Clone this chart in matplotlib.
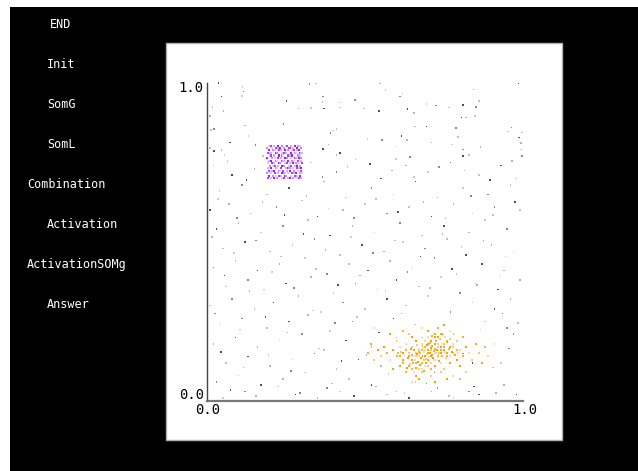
import matplotlib
matplotlib.use("Agg")
import matplotlib.pyplot as plt
from matplotlib.patches import Rectangle

# ---------------- data ----------------
menu_items = ["END", "Init", "SomG", "SomL", "Combination", "Activation", "ActivationSOMg", "Answer"]
menu_indent = [50, 47, 47, 47, 27, 47, 27, 47]

tick_labels = ["0.0", "1.0"]

gray_points = [
    (.036, 1.0), (.046, .999), (.113, .988), (.115, .973), (.017, .925), (.046, .957), (.052, .912),
    (.110, .959), (.324, .996), (.345, .999), (.252, .943), (.289, .920), (.329, .922), (.368, .957),
    (.365, .941), (.371, .920), (.419, .939), (.421, .923), (.468, .947), (.497, .920), (.545, .912),
    (.547, .999), (.565, .978), (.611, .957), (.619, .967), (.635, .918), (.655, .905), (.695, .934),
    (.725, .929), (.765, .923), (.811, .931), (.843, .980), (.843, .939), (.851, .925), (.861, .944),
    (.986, .999), (.009, .896), (.002, .873), (.023, .855), (.012, .852), (.073, .813), (.121, .866),
    (.131, .833), (.154, .805), (.009, .795), (.023, .786), (.046, .789), (.055, .774), (.242, .871),
    (.178, .770), (.368, .792), (.384, .807), (.398, .850), (.391, .842), (.410, .856), (.421, .779),
    (.410, .774), (.508, .823), (.553, .821), (.600, .800), (.616, .833), (.632, .821), (.598, .761),
    (.642, .768), (.658, .863), (.695, .863), (.711, .813), (.775, .807), (.788, .858), (.795, .831),
    (.806, .892), (.820, .892), (.848, .896), (.811, .791), (.830, .774), (.811, .770), (.866, .798),
    (.953, .847), (.964, .860), (.996, .844), (.988, .829), (.994, .812), (.993, .791), (.996, .770),
    (.02, .74), (.08, .71), (.15, .73), (.33, .75), (.41, .72), (.47, .76), (.55, .70), (.63, .74),
    (.70, .72), (.77, .75), (.86, .71), (.93, .74), (.98, .70),
    (.04, .66), (.11, .68), (.19, .65), (.26, .67), (.37, .69), (.44, .64), (.52, .67), (.59, .65),
    (.66, .69), (.73, .64), (.81, .67), (.89, .65), (.96, .68),
    (.01, .60), (.07, .62), (.14, .59), (.22, .61), (.30, .63), (.35, .58), (.43, .60), (.50, .62),
    (.57, .59), (.64, .61), (.71, .58), (.78, .62), (.84, .59), (.91, .61), (.99, .60),
    (.03, .54), (.10, .56), (.17, .53), (.24, .55), (.32, .57), (.39, .52), (.46, .55), (.53, .53),
    (.61, .56), (.68, .52), (.75, .55), (.83, .53), (.88, .57), (.95, .54),
    (.05, .48), (.12, .50), (.20, .47), (.27, .49), (.34, .51), (.42, .46), (.49, .49), (.56, .47),
    (.62, .50), (.69, .48), (.76, .51), (.82, .46), (.90, .49), (.97, .47),
    (.02, .42), (.09, .44), (.16, .41), (.23, .43), (.31, .45), (.38, .40), (.45, .43), (.51, .41),
    (.58, .44), (.65, .42), (.72, .45), (.79, .40), (.87, .43), (.94, .41),
    (.06, .36), (.13, .38), (.18, .35), (.25, .37), (.33, .39), (.40, .34), (.47, .37), (.54, .35),
    (.60, .38), (.67, .36), (.74, .39), (.80, .34), (.85, .37), (.92, .35), (.99, .38),
    (.01, .30), (.08, .32), (.15, .29), (.21, .31), (.29, .33), (.36, .28), (.43, .31), (.50, .29),
    (.57, .32), (.63, .30), (.70, .33), (.77, .28), (.84, .31), (.91, .29), (.96, .32),
    (.04, .24), (.11, .26), (.19, .23), (.26, .25), (.32, .27), (.39, .22), (.46, .25), (.53, .23),
    (.59, .26), (.66, .24), (.88, .25), (.95, .23),
    (.02, .18), (.09, .20), (.16, .17), (.23, .19), (.30, .21), (.37, .16), (.44, .19), (.52, .17),
    (.91, .18), (.97, .21),
    (.06, .12), (.13, .14), (.20, .11), (.27, .13), (.34, .15), (.41, .10), (.48, .13), (.55, .11),
    (.93, .12),
    (.03, .06), (.10, .08), (.17, .05), (.24, .07), (.31, .09), (.38, .04), (.45, .07), (.52, .05),
    (.60, .03), (.66, .06), (.73, .04), (.80, .07), (.86, .02), (.94, .05),
    (.05, .01), (.12, .03), (.19, .00), (.28, .02), (.35, .01), (.42, .03), (.49, .00), (.57, .02),
    (.64, .01), (.71, .03), (.78, .01), (.83, .03), (.90, .00), (.98, .02),
    (.60, .20), (.65, .14), (.72, .09), (.78, .21), (.84, .12), (.75, .17), (.68, .20), (.81, .15),
    (.065, .755), (.125, .695), (.215, .715), (.285, .745), (.365, .705), (.445, .735), (.515, .745),
    (.585, .725), (.655, .705), (.735, .735), (.815, .725), (.895, .695), (.965, .755),
    (.035, .635), (.095, .575), (.175, .625), (.245, .585), (.315, .645), (.385, .605), (.465, .575),
    (.535, .635), (.605, .595), (.685, .625), (.755, .575), (.835, .645), (.905, .585), (.975, .625),
    (.015, .515), (.085, .465), (.155, .505), (.235, .455), (.305, .525), (.375, .475), (.455, .515),
    (.525, .465), (.595, .505), (.675, .455), (.745, .525), (.805, .485), (.875, .505), (.945, .455),
    (.055, .395), (.135, .345), (.205, .405), (.275, .355), (.345, .415), (.415, .365), (.485, .395),
    (.565, .345), (.635, .405), (.705, .355), (.775, .415), (.855, .365), (.925, .395),
    (.025, .275), (.105, .225), (.185, .265), (.255, .215), (.335, .285), (.405, .245), (.475, .265),
    (.545, .215), (.615, .275), (.865, .225), (.935, .275), (.985, .245),
    (.045, .155), (.115, .105), (.195, .145), (.265, .095), (.355, .165), (.425, .125), (.505, .145),
    (.575, .085), (.955, .165), (.905, .105),
    (.075, .035), (.155, .015), (.225, .045), (.295, .025), (.395, .055), (.465, .015), (.535, .045),
    (.625, .025), (.695, .055), (.765, .015), (.845, .045), (.915, .025),
]

purple_row_y = [.700, .708, .716, .724, .732, .740, .748, .756, .764, .772, .780, .788, .796, .803]
purple_row_x = [
    [.193, .204, .212, .221, .236, .243, .255, .262, .271, .283, .291, .297],
    [.197, .208, .219, .228, .233, .248, .251, .266, .278, .286, .295],
    [.191, .201, .215, .224, .239, .245, .258, .269, .274, .281, .293, .299],
    [.195, .206, .211, .227, .232, .241, .253, .264, .276, .288, .296],
    [.192, .203, .217, .222, .235, .249, .256, .261, .273, .284, .290, .298],
    [.199, .209, .214, .226, .238, .244, .259, .267, .279, .285, .294],
    [.194, .205, .213, .229, .231, .246, .252, .263, .272, .282, .292, .300],
    [.196, .202, .218, .223, .237, .242, .257, .268, .275, .287, .297],
    [.190, .207, .216, .225, .234, .247, .254, .265, .277, .283, .291, .296],
    [.198, .204, .212, .228, .236, .240, .258, .262, .270, .289, .295],
    [.193, .201, .219, .221, .239, .245, .251, .266, .278, .281, .293, .299],
    [.195, .208, .214, .227, .233, .248, .255, .269, .274, .286, .290],
    [.191, .206, .217, .224, .232, .243, .259, .261, .273, .284, .297],
    [.197, .203, .211, .226, .238, .249, .253, .267, .279, .288, .294],
]

orange_points = [
    (.70, .15), (.71, .16), (.69, .14), (.72, .15), (.68, .16), (.70, .13), (.73, .17), (.67, .14), (.71, .12), (.69, .17),
    (.74, .15), (.66, .15), (.70, .18), (.72, .13), (.68, .12), (.75, .16), (.65, .17), (.71, .14), (.69, .16), (.70, .16),
    (.73, .14), (.67, .16), (.72, .18), (.68, .18), (.76, .14), (.64, .14), (.70, .11), (.71, .19), (.74, .12), (.66, .12),
    (.77, .17), (.63, .16), (.72, .11), (.69, .19), (.75, .18), (.65, .13), (.78, .15), (.62, .15), (.70, .20), (.71, .10),
    (.73, .20), (.67, .10), (.79, .13), (.61, .17), (.76, .19), (.64, .11), (.74, .09), (.66, .19), (.80, .16), (.60, .14),
    (.72, .21), (.68, .09), (.77, .12), (.63, .18), (.81, .14), (.59, .16), (.75, .10), (.65, .20), (.78, .18), (.62, .12),
    (.70, .22), (.71, .08), (.82, .17), (.58, .13), (.74, .21), (.66, .08), (.79, .19), (.61, .11), (.83, .15), (.57, .15),
    (.76, .07), (.64, .21), (.80, .11), (.60, .19), (.73, .23), (.67, .07), (.84, .13), (.56, .17), (.77, .22), (.63, .09),
    (.85, .18), (.55, .14), (.72, .06), (.68, .23), (.81, .20), (.59, .10), (.86, .15), (.54, .16), (.78, .08), (.62, .22),
    (.87, .12), (.53, .13), (.75, .24), (.65, .06), (.88, .17), (.52, .18), (.82, .09), (.58, .21), (.89, .14), (.51, .15),
    (.705, .152), (.695, .148), (.712, .145), (.688, .155), (.718, .158), (.682, .142), (.701, .138), (.699, .162), (.725, .150), (.675, .150),
    (.708, .168), (.692, .132), (.715, .135), (.685, .165), (.722, .165), (.678, .135), (.703, .125), (.697, .175), (.730, .145), (.670, .155),
    (.713, .172), (.687, .128), (.728, .160), (.672, .140), (.706, .182), (.694, .118), (.735, .152), (.665, .148), (.718, .128), (.682, .172),
    (.740, .160), (.660, .140), (.710, .190), (.690, .110), (.745, .140), (.655, .160), (.732, .178), (.668, .122), (.750, .155), (.650, .145),
    (.735, .125), (.665, .175), (.742, .170), (.658, .130), (.726, .188), (.674, .112), (.755, .135), (.645, .165), (.748, .180), (.652, .120),
    (.760, .150), (.640, .150), (.720, .200), (.680, .100), (.765, .165), (.635, .135), (.738, .195), (.662, .105), (.770, .140), (.630, .160),
    (.758, .185), (.642, .115), (.775, .155), (.625, .145), (.712, .205), (.688, .095), (.780, .170), (.620, .130), (.752, .200), (.648, .100),
    (.785, .145), (.615, .155), (.745, .210), (.655, .090), (.790, .160), (.610, .140), (.768, .195), (.632, .105), (.795, .150), (.605, .150),
]

# ---------------- figure ----------------
W, H = 638, 471
fig = plt.figure(figsize=(W / 100, H / 100), dpi=100)
fig.patch.set_facecolor("white")

def fx(px):
    return px / W

def fy(py):
    return 1 - py / H

# black background
fig.patches.append(Rectangle((fx(10), 0), fx(628), 1 - 7 / H, transform=fig.transFigure,
                             facecolor="black", edgecolor="none", zorder=0))
# white plotting panel
fig.patches.append(Rectangle((fx(166), fy(440)), fx(396), 397 / H, transform=fig.transFigure,
                             facecolor="white", edgecolor="#b0b0b0", linewidth=1, zorder=1))

# menu
for i, (txt, xi) in enumerate(zip(menu_items, menu_indent)):
    fig.text(fx(xi), fy(25 + i * 39.9), txt, color="white", fontsize=8.5,
             family="DejaVu Sans Mono", ha="left", va="center")

# axes covering data region
ax = fig.add_axes([fx(207), fy(401), fx(523) - fx(207), (401 - 83) / H])
ax.set_xlim(0, 1)
ax.set_ylim(0, 1)
ax.patch.set_alpha(0)
ax.set_xticks([])
ax.set_yticks([])
for s in ["top", "right"]:
    ax.spines[s].set_visible(False)
ax.spines["left"].set_color("#444444")
ax.spines["left"].set_linewidth(1.0)
ax.spines["bottom"].set_color("#777777")
ax.spines["bottom"].set_linewidth(1.6)
ax.set_zorder(2)

gx = [p[0] for p in gray_points]
gy = [p[1] for p in gray_points]
gray_cycle = ["#505050", "#b4b4b4", "#cccccc", "#8a8a8a", "#c0c0c0"]
gc = [gray_cycle[i % len(gray_cycle)] for i in range(len(gx))]
ax.scatter(gx, gy, s=1.3, marker="s", c=gc, linewidths=0, clip_on=False)

px_, py_ = [], []
for yv, row in zip(purple_row_y, purple_row_x):
    for xv in row:
        px_.append(xv)
        py_.append(yv)
purple_cycle = ["#b040ff", "#dca8ff", "#9a20ff", "#c888ff", "#e8c4ff"]
pc = [purple_cycle[i % len(purple_cycle)] for i in range(len(px_))]
ax.scatter(px_, py_, s=2.2, marker="s", c=pc, linewidths=0)

ox = [p[0] for p in orange_points]
oy = [p[1] for p in orange_points]
orange_cycle = ["#ffa500", "#ffc870", "#ff9a00", "#ffd89a", "#ffb030"]
oc = [orange_cycle[i % len(orange_cycle)] for i in range(len(ox))]
ax.scatter(ox, oy, s=2.0, marker="s", c=oc, linewidths=0)

# tick labels
lab_kw = dict(fontsize=10, family="DejaVu Sans Mono", color="black", clip_on=False)
ax.text(-0.01, 0.984, tick_labels[1], ha="right", va="center", **lab_kw)
ax.text(-0.01, 0.019, tick_labels[0], ha="right", va="center", **lab_kw)
ax.text(0.003, -0.028, tick_labels[0], ha="center", va="center", **lab_kw)
ax.text(1.006, -0.028, tick_labels[1], ha="center", va="center", **lab_kw)

fig.savefig("out.png", dpi=100, facecolor=fig.get_facecolor())
